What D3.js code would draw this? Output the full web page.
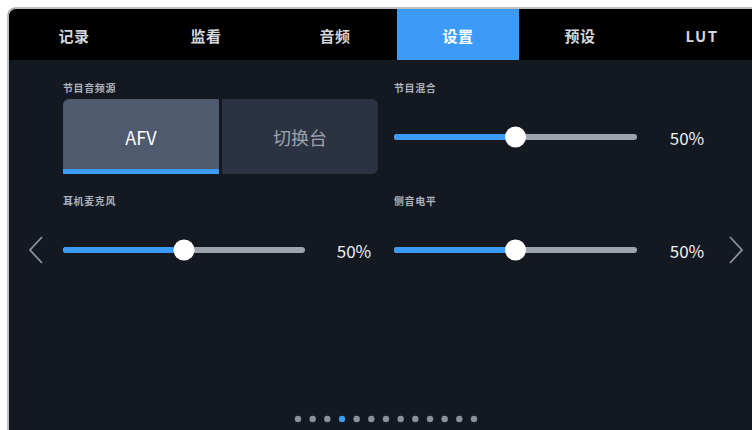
<!DOCTYPE html>
<html><head><meta charset="utf-8">
<script src="https://cdn.jsdelivr.net/npm/d3@7"></script>
<style>
html,body{margin:0;padding:0;background:#fff;}
svg{display:block;}
text{font-family:"Noto Sans CJK SC","Noto Sans",sans-serif;}
</style></head>
<body>
<script>
// ---- data ----
const tabs = ["记录", "监看", "音频", "设置", "预设", "LUT"];
const activeTab = "设置";
const sourceLabel = "节目音频源";
const sourceOptions = ["AFV", "切换台"];
const activeSource = "AFV";
const sliderLabels = ["节目混合", "耳机麦克风", "侧音电平"];
const sliderValues = [50, 50, 50];
const pageCount = 13;
const activePage = 3;

// ---- layout ----
const W = 752, H = 430;
const svg = d3.select("body").append("svg").attr("width", W).attr("height", H);

// outer frame
svg.append("rect").attr("x", 0).attr("y", 0).attr("width", W).attr("height", H).attr("fill", "#ffffff");
svg.append("path")
  .attr("d", `M8,${H} L8,16 Q8,8 16,8 L${W},8`)
  .attr("fill", "none").attr("stroke", "#a9a9a9").attr("stroke-width", 1.5);
svg.append("path")
  .attr("d", `M9,${H} L9,17 Q9,9 17,9 L${W},9 L${W},${H} Z`)
  .attr("fill", "#131821");

// tab bar
const tabTop = 9, tabBottom = 60;
svg.append("path")
  .attr("d", `M9,${tabBottom} L9,17 Q9,9 17,9 L${W},9 L${W},${tabBottom} Z`)
  .attr("fill", "#000000");
const tabCenters = [74, 206, 335, 458, 580, 702];
const tabX = d3.scaleOrdinal().domain(tabs).range(tabCenters);
const tabW = 122;
svg.selectAll("rect.tabbg").data(tabs.filter(t => t === activeTab)).join("rect")
  .attr("class", "tabbg")
  .attr("x", d => tabX(d) - tabW / 2).attr("y", tabTop)
  .attr("width", tabW).attr("height", tabBottom - tabTop)
  .attr("fill", "#3b9bf6");
svg.selectAll("text.tab").data(tabs).join("text")
  .attr("class", "tab")
  .attr("x", d => tabX(d)).attr("y", 35)
  .attr("text-anchor", "middle").attr("dominant-baseline", "central")
  .attr("font-size", 15).attr("font-weight", 700)
  .attr("letter-spacing", d => d === "LUT" ? 1.5 : 0.5)
  .attr("fill", d => d === activeTab ? "#ffffff" : "#d4d6da")
  .text(d => d);

// section labels
function label(x, y, t) {
  svg.append("text").attr("x", x).attr("y", y)
    .attr("dominant-baseline", "central")
    .attr("font-size", 10).attr("font-weight", 700)
    .attr("letter-spacing", 0.6)
    .attr("fill", "#aeb2ba").text(t);
}
label(63, 87, sourceLabel);

// segmented control
const segX = d3.scaleBand().domain(sourceOptions).range([63, 378]).paddingInner(0.02);
const segTop = 99, segH = 75;
const seg = svg.append("g");
seg.selectAll("rect.seg").data(sourceOptions).join("rect")
  .attr("class", "seg")
  .attr("x", d => segX(d)).attr("y", segTop)
  .attr("width", segX.bandwidth()).attr("height", segH)
  .attr("rx", 6)
  .attr("fill", d => d === activeSource ? "#4f5a6f" : "#2b3241");
// square-off the inner corners
seg.selectAll("rect.segfix").data(sourceOptions).join("rect")
  .attr("x", (d, i) => i === 0 ? segX(d) + segX.bandwidth() - 8 : segX(d))
  .attr("y", segTop).attr("width", 8).attr("height", segH)
  .attr("fill", d => d === activeSource ? "#4f5a6f" : "#2b3241");
seg.selectAll("rect.underline").data(sourceOptions.filter(d => d === activeSource)).join("rect")
  .attr("x", d => segX(d)).attr("y", segTop + segH - 5)
  .attr("width", segX.bandwidth()).attr("height", 5)
  .attr("fill", "#3b9bf6");
seg.selectAll("text").data(sourceOptions).join("text")
  .attr("x", d => segX(d) + segX.bandwidth() / 2).attr("y", 137)
  .attr("text-anchor", "middle").attr("dominant-baseline", "central")
  .attr("font-size", 18)
  .attr("font-family", d => d === "AFV" ? "'Open Sans','Noto Sans',sans-serif" : null)
  .attr("fill", d => d === activeSource ? "#ffffff" : "#9da3ad")
  .text(d => d);

// sliders
const sliderPos = [
  { x0: 394, x1: 637, y: 137, lx: 394, ly: 87, vx: 687 },
  { x0: 63, x1: 305, y: 250, lx: 63, ly: 200, vx: 354 },
  { x0: 394, x1: 637, y: 250, lx: 394, ly: 200, vx: 687 }
];
sliderLabels.forEach((lab, i) => {
  const p = sliderPos[i];
  const v = sliderValues[i];
  const sx = d3.scaleLinear().domain([0, 100]).range([p.x0 + 3, p.x1 - 3]);
  label(p.lx, p.ly, lab);
  const g = svg.append("g");
  g.append("line").attr("x1", sx(0)).attr("x2", sx(100)).attr("y1", p.y).attr("y2", p.y)
    .attr("stroke", "#9fa3ad").attr("stroke-width", 6).attr("stroke-linecap", "round");
  g.append("line").attr("x1", sx(0)).attr("x2", sx(v)).attr("y1", p.y).attr("y2", p.y)
    .attr("stroke", "#3b9bf6").attr("stroke-width", 6).attr("stroke-linecap", "round");
  g.append("circle").attr("cx", sx(v)).attr("cy", p.y).attr("r", 10.5).attr("fill", "#ffffff");
  g.append("text").attr("x", p.vx).attr("y", p.y)
    .attr("text-anchor", "middle").attr("dominant-baseline", "central")
    .attr("font-size", 17).attr("font-family", "'Open Sans','Noto Sans',sans-serif")
    .attr("fill", "#eef0f2").text(v + "%");
});

// chevrons
svg.append("path").attr("d", "M42,237 L30,250 L42,263")
  .attr("fill", "none").attr("stroke", "#8d929b").attr("stroke-width", 1.8);
svg.append("path").attr("d", "M730,237 L742,250 L730,263")
  .attr("fill", "none").attr("stroke", "#8d929b").attr("stroke-width", 1.8);

// page dots
const dotX = d3.scaleLinear().domain([0, pageCount - 1]).range([298, 474]);
svg.selectAll("circle.dot").data(d3.range(pageCount)).join("circle")
  .attr("class", "dot")
  .attr("cx", d => dotX(d)).attr("cy", 419).attr("r", 3.2)
  .attr("fill", d => d === activePage ? "#3b9bf6" : "#8b9099");
</script>
</body></html>
